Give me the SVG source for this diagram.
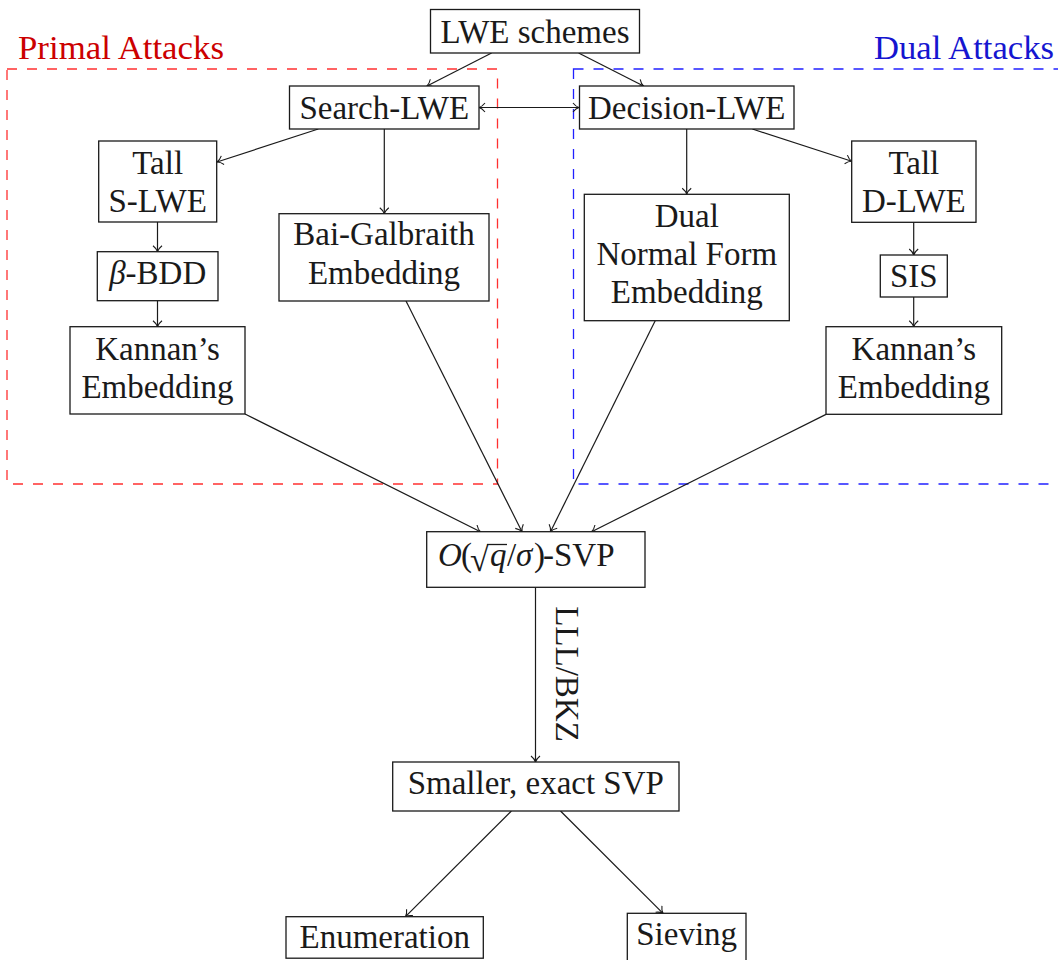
<svg xmlns="http://www.w3.org/2000/svg" width="1058" height="960" viewBox="0 0 1058 960">
  <style>
    .box { fill: #ffffff; stroke: #1a1a1a; stroke-width: 1.3; }
    .lbl { font-family: "Liberation Serif", "Times New Roman", serif; font-size: 33px; fill: #1a1a1a; text-anchor: middle; }
    .edge { fill: none; stroke: #1a1a1a; stroke-width: 1.2; }
    .arr { marker-end: url(#tip); }
    .region { fill: none; stroke-width: 1.3; stroke-dasharray: 10 10; }
    .title { font-family: "Liberation Serif", "Times New Roman", serif; font-size: 33px; }
    .it { font-style: italic; }
  </style>
  <defs>
    <marker id="tip" viewBox="-8 -6 10 12" markerWidth="10" markerHeight="12" refX="0" refY="0" orient="auto-start-reverse" markerUnits="userSpaceOnUse">
      <path d="M-6,-4.5 C-4,-2 -1.5,-0.4 0,0 C-1.5,0.4 -4,2 -6,4.5" fill="none" stroke="#1a1a1a" stroke-width="1.1"/>
    </marker>
  </defs>
  <rect width="1058" height="960" fill="#ffffff"/>

  <!-- attack regions -->
  <g id="primal-region">
    <rect class="region" x="7" y="69" width="490.5" height="415" stroke="#ff3030"/>
    <text class="title" x="18" y="59" fill="#cc0000" textLength="206" lengthAdjust="spacingAndGlyphs">Primal Attacks</text>
  </g>
  <g id="dual-region">
    <rect class="region" x="573.5" y="69" width="500" height="415" stroke="#2020ff"/>
    <text class="title" x="874" y="59" fill="#1515d0" textLength="180" lengthAdjust="spacingAndGlyphs">Dual Attacks</text>
  </g>

  <!-- connectors -->
  <g id="connectors">
    <line class="edge arr" x1="491.6" y1="53" x2="427" y2="86"/>
    <line class="edge arr" x1="578.6" y1="53" x2="643.5" y2="86"/>
    <line class="edge arr" x1="479" y1="107.5" x2="579" y2="107.5" marker-start="url(#tip)"/>
    <line class="edge arr" x1="318.3" y1="129" x2="217" y2="162"/>
    <line class="edge arr" x1="384.3" y1="129" x2="384.3" y2="213.7"/>
    <line class="edge arr" x1="157.5" y1="222" x2="157.5" y2="251.7"/>
    <line class="edge arr" x1="157.5" y1="300.7" x2="157.5" y2="326.7"/>
    <line class="edge arr" x1="686.7" y1="129" x2="686.7" y2="194.3"/>
    <line class="edge arr" x1="752.4" y1="129" x2="851.7" y2="161.3"/>
    <line class="edge arr" x1="913.7" y1="222.3" x2="913.7" y2="255"/>
    <line class="edge arr" x1="913.7" y1="297" x2="913.7" y2="326.7"/>
    <line class="edge arr" x1="245" y1="414" x2="480.4" y2="531.7"/>
    <line class="edge arr" x1="406" y1="301" x2="522" y2="531.7"/>
    <line class="edge arr" x1="655.2" y1="320.7" x2="550.5" y2="531.7"/>
    <line class="edge arr" x1="826" y1="414.4" x2="591.6" y2="531.7"/>
    <line class="edge arr" x1="535.5" y1="587.3" x2="535.5" y2="762"/>
    <text class="lbl" transform="translate(556,674) rotate(90)">LLL/BKZ</text>
    <line class="edge arr" x1="511.4" y1="811" x2="405.5" y2="916.7"/>
    <line class="edge arr" x1="560.5" y1="811" x2="663" y2="913.3"/>
  </g>

  <!-- nodes -->
  <g id="lwe-schemes">
    <rect class="box" x="430.5" y="9.5" width="209" height="43.5"/>
    <text class="lbl" x="535" y="43">LWE schemes</text>
  </g>
  <g id="search-lwe">
    <rect class="box" x="289.5" y="86" width="189.5" height="43"/>
    <text class="lbl" x="384.3" y="119">Search-LWE</text>
  </g>
  <g id="decision-lwe">
    <rect class="box" x="579.5" y="86" width="214.5" height="43"/>
    <text class="lbl" x="686.7" y="119">Decision-LWE</text>
  </g>
  <g id="tall-s-lwe">
    <rect class="box" x="98.7" y="141" width="118" height="81"/>
    <text class="lbl" x="157.7" y="174.3">Tall</text>
    <text class="lbl" x="157.7" y="212">S-LWE</text>
  </g>
  <g id="beta-bdd">
    <rect class="box" x="97.3" y="251.7" width="120.7" height="49"/>
    <text class="lbl" x="157.7" y="284"><tspan class="it">β</tspan>-BDD</text>
  </g>
  <g id="kannan-primal">
    <rect class="box" x="70" y="326.7" width="175" height="87.3"/>
    <text class="lbl" x="157.5" y="360">Kannan’s</text>
    <text class="lbl" x="157.5" y="397.7">Embedding</text>
  </g>
  <g id="bai-galbraith">
    <rect class="box" x="279" y="213.7" width="210" height="87.3"/>
    <text class="lbl" x="384" y="245">Bai-Galbraith</text>
    <text class="lbl" x="384" y="284">Embedding</text>
  </g>
  <g id="dual-normal-form">
    <rect class="box" x="584.3" y="194.3" width="205" height="126.4"/>
    <text class="lbl" x="686.8" y="226.7">Dual</text>
    <text class="lbl" x="686.8" y="265">Normal Form</text>
    <text class="lbl" x="686.8" y="303.3">Embedding</text>
  </g>
  <g id="tall-d-lwe">
    <rect class="box" x="851.7" y="141" width="124.3" height="81.3"/>
    <text class="lbl" x="913.8" y="174.3">Tall</text>
    <text class="lbl" x="913.8" y="212">D-LWE</text>
  </g>
  <g id="sis">
    <rect class="box" x="880.3" y="255" width="67" height="42"/>
    <text class="lbl" x="913.8" y="286.7">SIS</text>
  </g>
  <g id="kannan-dual">
    <rect class="box" x="826" y="326.7" width="175.7" height="87.6"/>
    <text class="lbl" x="913.9" y="360">Kannan’s</text>
    <text class="lbl" x="913.9" y="397.7">Embedding</text>
  </g>
  <g id="approx-svp">
    <rect class="box" x="426.7" y="531.7" width="218.3" height="55.6"/>
    <text class="lbl" y="566" style="text-anchor:start"><tspan class="it" x="438">O</tspan><tspan x="461">(</tspan><tspan x="470" dy="5" font-size="34">√</tspan><tspan class="it" x="490" dy="-5">q</tspan><tspan x="507">/</tspan><tspan class="it" x="516">σ</tspan><tspan x="534">)</tspan><tspan x="543">-SVP</tspan></text>
    <line x1="487" y1="544.5" x2="507" y2="544.5" stroke="#1a1a1a" stroke-width="1.3"/>
  </g>
  <g id="exact-svp">
    <rect class="box" x="392.7" y="762" width="286.3" height="49"/>
    <text class="lbl" x="535.8" y="794">Smaller, exact SVP</text>
  </g>
  <g id="enumeration">
    <rect class="box" x="286" y="916.7" width="197.3" height="41.5"/>
    <text class="lbl" x="384.7" y="948.3">Enumeration</text>
  </g>
  <g id="sieving">
    <rect class="box" x="627.3" y="913.3" width="118.7" height="50"/>
    <text class="lbl" x="686.7" y="945">Sieving</text>
  </g>
</svg>
